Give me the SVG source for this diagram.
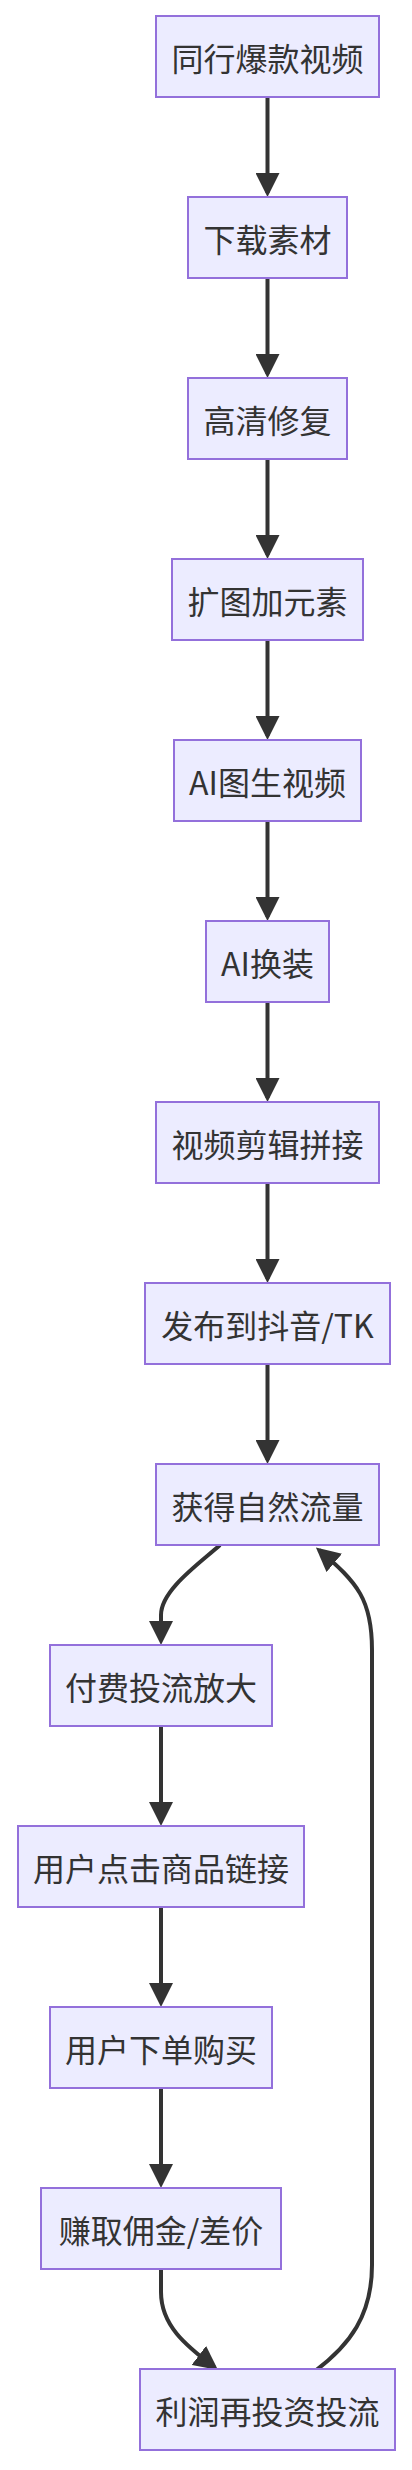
<svg xmlns="http://www.w3.org/2000/svg" width="412" height="2470" viewBox="0 0 412 2470">
<style>
.node rect{fill:#ECECFF;stroke:#9370DB;stroke-width:2}
.node text{font-family:"Noto Sans CJK SC","Noto Sans",sans-serif;font-size:32px;fill:#333333;text-anchor:middle;dominant-baseline:central}
.edge{fill:none;stroke:#333333;stroke-width:4}
</style>
<defs>
<marker id="arrow" viewBox="0 0 10 10" refX="8.33" refY="5" markerWidth="24" markerHeight="24" markerUnits="userSpaceOnUse" orient="auto">
<path d="M0,0 L10,5 L0,10 z" fill="#333333"/>
</marker>
</defs>
<rect width="412" height="2470" fill="#FFFFFF"/>
<g id="edges">
<path class="edge" marker-end="url(#arrow)" d="M267.5,97 L267.5,193"/>
<path class="edge" marker-end="url(#arrow)" d="M267.5,278 L267.5,374"/>
<path class="edge" marker-end="url(#arrow)" d="M267.5,459 L267.5,555"/>
<path class="edge" marker-end="url(#arrow)" d="M267.5,640 L267.5,736"/>
<path class="edge" marker-end="url(#arrow)" d="M267.5,821 L267.5,917"/>
<path class="edge" marker-end="url(#arrow)" d="M267.5,1002 L267.5,1098"/>
<path class="edge" marker-end="url(#arrow)" d="M267.5,1183 L267.5,1279"/>
<path class="edge" marker-end="url(#arrow)" d="M267.5,1364 L267.5,1460"/>
<path class="edge" marker-end="url(#arrow)" d="M220,1545 C200,1563 161,1590 161,1615 L161,1641"/>
<path class="edge" marker-end="url(#arrow)" d="M161,1726 L161,1822"/>
<path class="edge" marker-end="url(#arrow)" d="M161,1907 L161,2003"/>
<path class="edge" marker-end="url(#arrow)" d="M161,2088 L161,2184"/>
<path class="edge" marker-end="url(#arrow)" d="M161,2269 L161,2292 C161,2325 185,2345 214.8,2367.5"/>
<path class="edge" marker-end="url(#arrow)" d="M315,2371 C350,2345 372,2315 372,2265 L372,1650 C372,1600 358,1583 319,1550"/>
</g>
<g id="n1" class="node"><rect x="156" y="16" width="223" height="81"/><text x="267.5" y="56.5">同行爆款视频</text></g>
<g id="n2" class="node"><rect x="188" y="197" width="159" height="81"/><text x="267.5" y="237.5">下载素材</text></g>
<g id="n3" class="node"><rect x="188" y="378" width="159" height="81"/><text x="267.5" y="418.5">高清修复</text></g>
<g id="n4" class="node"><rect x="172" y="559" width="191" height="81"/><text x="267.5" y="599.5">扩图加元素</text></g>
<g id="n5" class="node"><rect x="174" y="740" width="187" height="81"/><text x="267.5" y="780.5">AI图生视频</text></g>
<g id="n6" class="node"><rect x="206" y="921" width="123" height="81"/><text x="267.5" y="961.5">AI换装</text></g>
<g id="n7" class="node"><rect x="156" y="1102" width="223" height="81"/><text x="267.5" y="1142.5">视频剪辑拼接</text></g>
<g id="n8" class="node"><rect x="145" y="1283" width="245" height="81"/><text x="267.5" y="1323.5">发布到抖音/TK</text></g>
<g id="n9" class="node"><rect x="156" y="1464" width="223" height="81"/><text x="267.5" y="1504.5">获得自然流量</text></g>
<g id="n10" class="node"><rect x="50" y="1645" width="222" height="81"/><text x="161" y="1685.5">付费投流放大</text></g>
<g id="n11" class="node"><rect x="18" y="1826" width="286" height="81"/><text x="161" y="1866.5">用户点击商品链接</text></g>
<g id="n12" class="node"><rect x="50" y="2007" width="222" height="81"/><text x="161" y="2047.5">用户下单购买</text></g>
<g id="n13" class="node"><rect x="41" y="2188" width="240" height="81"/><text x="161" y="2228.5">赚取佣金/差价</text></g>
<g id="n14" class="node"><rect x="140" y="2369" width="255" height="81"/><text x="267.5" y="2409.5">利润再投资投流</text></g>
</svg>
